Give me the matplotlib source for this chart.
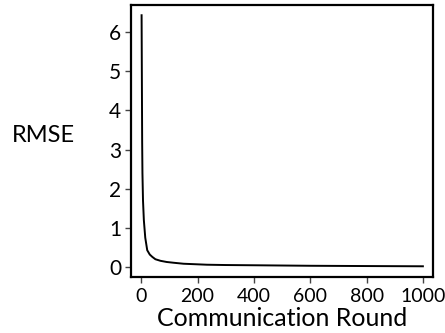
import numpy as np
import matplotlib
matplotlib.use('Agg')
from matplotlib import pyplot as plt

# RMSE per communication round
rounds = [1, 2, 3, 4, 6, 9, 14, 21, 30, 39, 50, 68, 90, 115, 150, 233, 300, 418, 600, 800, 1000]
rmse = [6.43, 4.80, 3.20, 2.40, 1.70, 1.20, 0.75, 0.43, 0.32, 0.26, 0.20, 0.16, 0.13, 0.11, 0.085, 0.06, 0.052, 0.045, 0.033, 0.026, 0.020]

x_ticks = [0, 200, 400, 600, 800, 1000]
y_ticks = [0, 1, 2, 3, 4, 5, 6]

plt.rcParams['font.family'] = ['Lato', 'DejaVu Sans']

fig = plt.figure(figsize=(4.45, 3.33), dpi=100)
ax = fig.add_axes([0.2944, 0.168, 0.6787, 0.818])
ax.plot(rounds, rmse, color='black', linewidth=1.4)

ax.set_xlim(-36.6, 1036)
ax.set_ylim(-0.255, 6.70)
ax.set_xticks(x_ticks)
ax.set_yticks(y_ticks)
ax.tick_params(labelsize=14, width=1.0, length=4, color='#444444', pad=3)
ax.tick_params(axis='x', pad=4)
ax.tick_params(axis='y', labelsize=15)
for s in ax.spines.values():
    s.set_linewidth(1.6)

ax.set_xlabel('Communication Round', fontsize=18, labelpad=1)
ax.set_ylabel('RMSE', fontsize=17, rotation=0, ha='center', va='center')
ax.yaxis.set_label_coords(-0.291, 0.518)

fig.savefig('out.png', dpi=100)
